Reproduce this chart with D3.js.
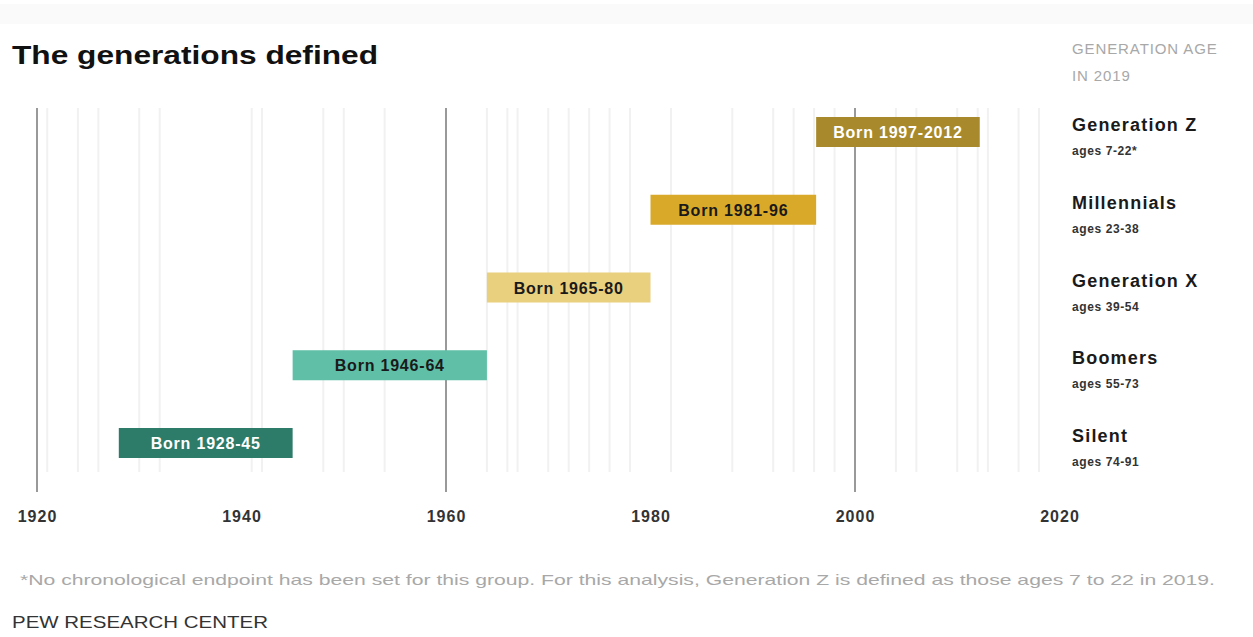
<!DOCTYPE html>
<html>
<head>
<meta charset="utf-8">
<script src="https://cdn.jsdelivr.net/npm/d3@7"></script>
<style>
  html, body { margin: 0; padding: 0; background: #fff; }
  svg { display: block; }
  text { font-family: "Liberation Sans", Arial, sans-serif; }
</style>
</head>
<body>
<svg id="chart" width="1253" height="637"></svg>
<script>
// ---- data ----
const generations = ["Generation Z", "Millennials", "Generation X", "Boomers", "Silent"];
const ages = ["ages 7-22*", "ages 23-38", "ages 39-54", "ages 55-73", "ages 74-91"];
const barLabels = ["Born 1997-2012", "Born 1981-96", "Born 1965-80", "Born 1946-64", "Born 1928-45"];
const barStart = [1996.2, 1980, 1964, 1945, 1928];
const barEnd = [2012.2, 1996.2, 1980, 1964, 1945];
const barColors = ["#a88a2c", "#d9a92a", "#e9d07f", "#5fbfa7", "#2d7b69"];
const barTextColors = ["#ffffff", "#1a1a1a", "#1a1a1a", "#1a1a1a", "#ffffff"];
const axisTicks = [1920, 1940, 1960, 1980, 2000, 2020];
const majorLines = [1920, 1960, 2000];
const minorLines = [1921, 1924, 1926, 1930, 1932, 1941, 1942, 1948, 1950, 1954, 1964, 1966, 1967,
                    1970, 1972, 1974, 1976, 1978, 1982, 1988, 1992, 1994, 1996, 1998, 2004, 2006,
                    2010, 2012, 2013, 2016, 2018];

// ---- layout ----
const svg = d3.select("#chart");
const x = d3.scaleLinear().domain([1920, 2020]).range([37, 1059.5]);
const y = d3.scalePoint().domain(generations).range([132, 443]);
const barH = 30;
const gridTop = 108, gridBottom = 492;

// faint top band
svg.append("rect").attr("x", 0).attr("y", 4).attr("width", 1253).attr("height", 20).attr("fill", "#fafafa");

// title
svg.append("text").attr("x", 12).attr("y", 64)
  .attr("font-size", 26).attr("font-weight", "bold").attr("fill", "#111")
  .attr("textLength", 366).attr("lengthAdjust", "spacingAndGlyphs")
  .text("The generations defined");

// header right
const hdr = svg.append("g").attr("fill", "#a8a8a8").attr("font-size", 15).attr("letter-spacing", 0.9);
hdr.append("text").attr("x", 1072).attr("y", 54).text("GENERATION AGE");
hdr.append("text").attr("x", 1072).attr("y", 81).text("IN 2019");

// minor grid
svg.append("g").selectAll("line").data(minorLines).join("line")
  .attr("x1", d => x(d)).attr("x2", d => x(d))
  .attr("y1", gridTop).attr("y2", gridBottom - 20)
  .attr("stroke", "#f1f1f1").attr("stroke-width", 2);

// major grid
svg.append("g").selectAll("line").data(majorLines).join("line")
  .attr("x1", d => x(d)).attr("x2", d => x(d))
  .attr("y1", gridTop).attr("y2", gridBottom)
  .attr("stroke", "#777").attr("stroke-width", 1.5);

// axis
const axis = d3.axisBottom(x).tickValues(axisTicks).tickFormat(d3.format("d")).tickSize(0).tickPadding(0);
const ax = svg.append("g").attr("transform", `translate(0, ${gridBottom + 14})`).call(axis);
ax.select(".domain").remove();
ax.selectAll("text").attr("font-size", 16).attr("fill", "#333").attr("font-weight", "bold")
  .attr("font-family", "'Liberation Sans', Arial, sans-serif").attr("dy", "1.0em")
  .attr("letter-spacing", 1);

// bars
const idx = d3.range(generations.length);
svg.append("g").selectAll("rect").data(idx).join("rect")
  .attr("x", i => x(barStart[i]))
  .attr("width", i => x(barEnd[i]) - x(barStart[i]))
  .attr("y", i => y(generations[i]) - barH / 2)
  .attr("height", barH)
  .attr("fill", i => barColors[i]);

svg.append("g").selectAll("text").data(idx).join("text")
  .attr("x", i => (x(barStart[i]) + x(barEnd[i])) / 2)
  .attr("y", i => y(generations[i]) + 6)
  .attr("text-anchor", "middle")
  .attr("font-size", 16).attr("font-weight", "bold").attr("letter-spacing", 0.8)
  .attr("fill", i => barTextColors[i])
  .text(i => barLabels[i]);

// right labels
const lab = svg.append("g").selectAll("g").data(idx).join("g");
lab.append("text").attr("x", 1072).attr("y", i => y(generations[i]) - 1)
  .attr("font-size", 18).attr("font-weight", "bold").attr("fill", "#1a1a1a").attr("letter-spacing", 1.2)
  .text(i => generations[i]);
lab.append("text").attr("x", 1072).attr("y", i => y(generations[i]) + 23)
  .attr("font-size", 12).attr("font-weight", "bold").attr("fill", "#333").attr("letter-spacing", 0.6)
  .text(i => ages[i]);

// footnote
svg.append("text").attr("x", 20).attr("y", 585)
  .attr("font-size", 15).attr("fill", "#a8a8a8")
  .attr("textLength", 1195).attr("lengthAdjust", "spacingAndGlyphs")
  .text("*No chronological endpoint has been set for this group. For this analysis, Generation Z is defined as those ages 7 to 22 in 2019.");

svg.append("text").attr("x", 12).attr("y", 628)
  .attr("font-size", 17).attr("fill", "#333")
  .attr("textLength", 256).attr("lengthAdjust", "spacingAndGlyphs")
  .text("PEW RESEARCH CENTER");
</script>
</body>
</html>
